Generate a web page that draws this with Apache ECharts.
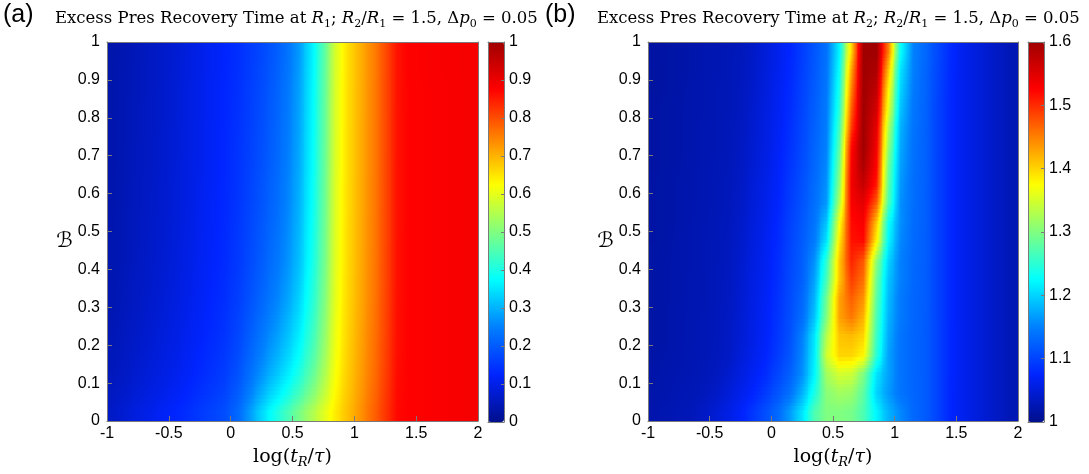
<!DOCTYPE html>
<html><head><meta charset="utf-8">
<script src="https://cdn.jsdelivr.net/npm/echarts@6/dist/echarts.min.js"></script>
<style>html,body{margin:0;padding:0;background:#fff}#c{width:1089px;height:474px}</style>
</head><body><div id="c"></div>
<script>
// cell centres
const xCenters = [-0.95,-0.85,-0.75,-0.65,-0.55,-0.45,-0.35,-0.25,-0.15,-0.05,0.05,0.15,0.25,0.35,0.45,0.55,0.65,0.75,0.85,0.95,1.05,1.15,1.25,1.35,1.45,1.55,1.65,1.75,1.85,1.95];
const yCenters = [0.025,0.075,0.125,0.175,0.225,0.275,0.325,0.375,0.425,0.475,0.525,0.575,0.625,0.675,0.725,0.775,0.825,0.875,0.925,0.975];
const xTicks = [-1,-0.5,0,0.5,1,1.5,2];
const yTicks = [0,0.1,0.2,0.3,0.4,0.5,0.6,0.7,0.8,0.9,1];
const cbTicksA = [0,0.1,0.2,0.3,0.4,0.5,0.6,0.7,0.8,0.9,1];
const cbTicksB = [1,1.1,1.2,1.3,1.4,1.5,1.6];

// panel (a) values, rows from bottom (y=0.025) to top (y=0.975)
const rowsA = [
[0.065,0.078,0.091,0.103,0.114,0.125,0.139,0.152,0.166,0.18,0.216,0.275,0.335,0.39,0.439,0.489,0.54,0.593,0.644,0.688,0.731,0.776,0.823,0.869,0.876,0.878,0.88,0.882,0.884,0.886],
[0.058,0.069,0.081,0.092,0.102,0.113,0.127,0.14,0.153,0.167,0.197,0.246,0.296,0.343,0.388,0.436,0.495,0.559,0.63,0.681,0.724,0.769,0.818,0.867,0.876,0.878,0.88,0.882,0.884,0.886],
[0.052,0.063,0.074,0.084,0.094,0.105,0.118,0.131,0.144,0.157,0.184,0.226,0.268,0.31,0.352,0.40,0.463,0.536,0.62,0.676,0.719,0.764,0.814,0.865,0.876,0.878,0.88,0.882,0.884,0.886],
[0.049,0.059,0.069,0.079,0.089,0.099,0.112,0.125,0.138,0.151,0.175,0.212,0.249,0.288,0.328,0.375,0.441,0.52,0.613,0.672,0.716,0.761,0.812,0.863,0.876,0.878,0.88,0.882,0.884,0.886],
[0.046,0.056,0.066,0.075,0.085,0.095,0.108,0.12,0.133,0.146,0.168,0.202,0.236,0.272,0.31,0.357,0.425,0.509,0.608,0.669,0.714,0.759,0.81,0.862,0.876,0.878,0.88,0.882,0.884,0.886],
[0.044,0.053,0.063,0.072,0.081,0.092,0.104,0.117,0.129,0.142,0.163,0.193,0.224,0.257,0.295,0.341,0.411,0.499,0.604,0.667,0.711,0.756,0.809,0.862,0.876,0.878,0.88,0.882,0.884,0.886],
[0.042,0.051,0.06,0.069,0.078,0.089,0.101,0.113,0.126,0.138,0.158,0.185,0.213,0.245,0.281,0.328,0.40,0.49,0.60,0.665,0.709,0.754,0.807,0.861,0.876,0.878,0.88,0.882,0.884,0.886],
[0.041,0.05,0.059,0.067,0.076,0.086,0.099,0.111,0.123,0.136,0.154,0.18,0.206,0.237,0.272,0.318,0.392,0.484,0.597,0.664,0.708,0.753,0.806,0.86,0.876,0.878,0.88,0.882,0.884,0.886],
[0.039,0.048,0.057,0.066,0.074,0.084,0.097,0.109,0.121,0.133,0.151,0.175,0.20,0.229,0.264,0.309,0.384,0.478,0.595,0.662,0.707,0.752,0.806,0.86,0.876,0.878,0.88,0.882,0.884,0.886],
[0.039,0.047,0.056,0.065,0.073,0.083,0.096,0.108,0.12,0.132,0.15,0.173,0.196,0.225,0.259,0.305,0.38,0.475,0.594,0.662,0.706,0.751,0.805,0.86,0.876,0.878,0.88,0.882,0.884,0.886],
[0.038,0.047,0.055,0.064,0.072,0.082,0.095,0.107,0.119,0.131,0.148,0.17,0.193,0.22,0.255,0.30,0.376,0.472,0.592,0.661,0.706,0.751,0.805,0.859,0.876,0.878,0.88,0.882,0.884,0.886],
[0.037,0.046,0.054,0.063,0.071,0.081,0.093,0.106,0.118,0.13,0.146,0.168,0.189,0.216,0.25,0.296,0.372,0.47,0.591,0.66,0.705,0.75,0.804,0.859,0.876,0.878,0.88,0.882,0.884,0.886],
[0.037,0.045,0.054,0.062,0.071,0.081,0.093,0.105,0.117,0.129,0.145,0.166,0.188,0.214,0.248,0.293,0.37,0.468,0.591,0.66,0.705,0.75,0.804,0.859,0.876,0.878,0.88,0.882,0.884,0.886],
[0.036,0.045,0.053,0.061,0.07,0.08,0.092,0.104,0.116,0.128,0.144,0.164,0.184,0.21,0.244,0.289,0.366,0.465,0.589,0.659,0.704,0.749,0.804,0.859,0.876,0.878,0.88,0.882,0.884,0.886],
[0.036,0.044,0.053,0.061,0.069,0.079,0.091,0.103,0.115,0.128,0.143,0.163,0.182,0.208,0.241,0.287,0.364,0.464,0.589,0.659,0.704,0.749,0.803,0.859,0.876,0.878,0.88,0.882,0.884,0.886],
[0.036,0.044,0.052,0.06,0.069,0.079,0.091,0.103,0.115,0.127,0.142,0.161,0.181,0.206,0.239,0.284,0.362,0.462,0.588,0.659,0.704,0.749,0.803,0.859,0.876,0.878,0.88,0.882,0.884,0.886],
[0.035,0.044,0.052,0.06,0.068,0.078,0.09,0.102,0.114,0.126,0.141,0.16,0.179,0.204,0.237,0.282,0.36,0.461,0.588,0.658,0.703,0.748,0.803,0.858,0.876,0.878,0.88,0.882,0.884,0.886],
[0.035,0.043,0.051,0.059,0.068,0.078,0.09,0.102,0.114,0.126,0.14,0.159,0.177,0.202,0.235,0.28,0.358,0.459,0.587,0.658,0.703,0.748,0.803,0.858,0.876,0.878,0.88,0.882,0.884,0.886],
[0.035,0.043,0.051,0.059,0.067,0.077,0.089,0.101,0.113,0.125,0.139,0.157,0.175,0.199,0.231,0.276,0.355,0.457,0.586,0.657,0.702,0.747,0.802,0.858,0.877,0.879,0.881,0.883,0.885,0.887],
[0.034,0.042,0.05,0.058,0.066,0.076,0.088,0.10,0.112,0.124,0.138,0.155,0.172,0.196,0.228,0.273,0.352,0.455,0.585,0.657,0.702,0.747,0.802,0.858,0.877,0.879,0.881,0.883,0.885,0.887]
];

// panel (b) values, rows from bottom (y=0.025) to top (y=0.975)
const rowsB = [
[1.022,1.024,1.027,1.029,1.036,1.046,1.058,1.071,1.089,1.109,1.131,1.165,1.21,1.27,1.30,1.30,1.295,1.27,1.22,1.18,1.155,1.13,1.12,1.10,1.076,1.064,1.054,1.044,1.035,1.027],
[1.02,1.022,1.025,1.027,1.03,1.037,1.049,1.061,1.074,1.093,1.113,1.136,1.18,1.24,1.305,1.32,1.315,1.28,1.20,1.165,1.14,1.128,1.12,1.10,1.076,1.064,1.054,1.044,1.035,1.027],
[1.019,1.021,1.023,1.026,1.028,1.032,1.042,1.054,1.066,1.081,1.101,1.122,1.16,1.22,1.32,1.35,1.345,1.30,1.21,1.17,1.14,1.127,1.12,1.10,1.077,1.064,1.054,1.044,1.035,1.027],
[1.018,1.02,1.022,1.025,1.027,1.03,1.037,1.049,1.061,1.074,1.093,1.113,1.155,1.215,1.345,1.40,1.40,1.38,1.25,1.17,1.14,1.127,1.12,1.10,1.077,1.064,1.054,1.044,1.035,1.027],
[1.017,1.019,1.022,1.024,1.027,1.029,1.036,1.046,1.058,1.071,1.089,1.109,1.15,1.21,1.33,1.41,1.415,1.40,1.26,1.175,1.14,1.127,1.12,1.10,1.077,1.064,1.054,1.044,1.035,1.027],
[1.017,1.019,1.022,1.024,1.027,1.029,1.035,1.045,1.057,1.07,1.087,1.107,1.135,1.19,1.30,1.43,1.455,1.42,1.27,1.18,1.145,1.128,1.12,1.10,1.078,1.064,1.054,1.044,1.035,1.027],
[1.017,1.019,1.021,1.024,1.026,1.029,1.034,1.044,1.056,1.069,1.085,1.105,1.13,1.18,1.29,1.43,1.47,1.44,1.28,1.185,1.145,1.128,1.121,1.10,1.078,1.064,1.054,1.044,1.035,1.027],
[1.017,1.019,1.021,1.024,1.026,1.029,1.033,1.043,1.055,1.067,1.083,1.103,1.124,1.17,1.265,1.41,1.49,1.46,1.29,1.19,1.15,1.13,1.121,1.10,1.078,1.064,1.054,1.044,1.035,1.027],
[1.017,1.019,1.021,1.023,1.026,1.028,1.032,1.042,1.054,1.066,1.081,1.101,1.122,1.16,1.25,1.41,1.505,1.475,1.31,1.20,1.15,1.13,1.122,1.10,1.078,1.064,1.054,1.044,1.035,1.027],
[1.016,1.018,1.021,1.023,1.026,1.028,1.032,1.04,1.052,1.065,1.079,1.099,1.12,1.145,1.21,1.39,1.515,1.52,1.38,1.22,1.155,1.132,1.122,1.10,1.078,1.064,1.054,1.044,1.035,1.027],
[1.016,1.018,1.02,1.023,1.025,1.028,1.031,1.039,1.051,1.063,1.077,1.097,1.117,1.14,1.19,1.37,1.52,1.53,1.41,1.23,1.16,1.133,1.123,1.10,1.078,1.064,1.054,1.044,1.035,1.027],
[1.016,1.018,1.02,1.022,1.025,1.027,1.03,1.037,1.049,1.061,1.074,1.093,1.113,1.136,1.165,1.33,1.53,1.545,1.47,1.27,1.16,1.135,1.123,1.10,1.078,1.064,1.054,1.044,1.035,1.027],
[1.016,1.018,1.02,1.022,1.025,1.027,1.03,1.036,1.048,1.06,1.072,1.091,1.111,1.133,1.16,1.31,1.535,1.57,1.51,1.28,1.165,1.135,1.124,1.10,1.078,1.064,1.054,1.044,1.035,1.027],
[1.015,1.017,1.019,1.022,1.024,1.027,1.029,1.035,1.045,1.057,1.07,1.087,1.107,1.129,1.155,1.295,1.53,1.59,1.525,1.29,1.17,1.137,1.124,1.10,1.078,1.064,1.054,1.044,1.035,1.027],
[1.015,1.017,1.019,1.021,1.024,1.026,1.029,1.034,1.044,1.056,1.069,1.085,1.105,1.127,1.15,1.28,1.52,1.60,1.535,1.31,1.175,1.138,1.125,1.10,1.078,1.064,1.054,1.044,1.035,1.027],
[1.015,1.017,1.019,1.021,1.024,1.026,1.029,1.033,1.043,1.055,1.067,1.083,1.103,1.124,1.147,1.265,1.49,1.60,1.545,1.33,1.18,1.14,1.125,1.10,1.078,1.064,1.054,1.044,1.035,1.027],
[1.015,1.017,1.019,1.021,1.023,1.026,1.028,1.032,1.042,1.054,1.066,1.081,1.101,1.122,1.145,1.25,1.47,1.60,1.56,1.36,1.19,1.142,1.126,1.10,1.078,1.064,1.054,1.044,1.035,1.027],
[1.014,1.016,1.018,1.021,1.023,1.026,1.028,1.032,1.04,1.052,1.065,1.079,1.099,1.12,1.142,1.24,1.45,1.60,1.575,1.38,1.20,1.145,1.127,1.102,1.078,1.064,1.054,1.044,1.035,1.027],
[1.014,1.016,1.018,1.02,1.023,1.025,1.028,1.031,1.039,1.051,1.063,1.077,1.097,1.117,1.14,1.23,1.43,1.60,1.59,1.41,1.21,1.148,1.128,1.103,1.079,1.064,1.054,1.044,1.035,1.027],
[1.015,1.016,1.018,1.02,1.023,1.025,1.028,1.03,1.038,1.05,1.062,1.075,1.095,1.115,1.138,1.22,1.40,1.60,1.60,1.45,1.23,1.15,1.13,1.105,1.08,1.064,1.054,1.044,1.035,1.027]
];

const jet = ['#000f8c','#0024ff','#0080ff','#00ffff','#80ff80','#ffff00','#ff8000','#ff0000','#a00000'];
const jetRGB = jet.map(h=>[parseInt(h.slice(1,3),16),parseInt(h.slice(3,5),16),parseInt(h.slice(5,7),16)]);
function jetColor(t){
  t=Math.max(0,Math.min(1,t));
  const n=jetRGB.length-1, p=t*n, k=Math.min(n-1,Math.floor(p)), f=p-k, a=jetRGB[k], b=jetRGB[k+1];
  return 'rgb('+Math.round(a[0]+(b[0]-a[0])*f)+','+Math.round(a[1]+(b[1]-a[1])*f)+','+Math.round(a[2]+(b[2]-a[2])*f)+')';
}

function toCells(rows){const out=[];rows.forEach((r,j)=>r.forEach((v,i)=>out.push([xCenters[i],yCenters[j],v,i,j])));return out;}

// interpolated shading of each cell (like shading interp), cell placed through the axes
function makeRender(rows,vmin,vmax){
  const nr=rows.length,nc=rows[0].length;
  const dx=(xCenters[1]-xCenters[0])/2, dy=(yCenters[1]-yCenters[0])/2;
  function val(i,j){i=Math.max(0,Math.min(nc-1,i));j=Math.max(0,Math.min(nr-1,j));return rows[j][i];}
  function bil(ci,rj){
    const i0=Math.floor(ci),fi=ci-i0,j0=Math.floor(rj),fj=rj-j0;
    return (1-fi)*(1-fj)*val(i0,j0)+fi*(1-fj)*val(i0+1,j0)+(1-fi)*fj*val(i0,j0+1)+fi*fj*val(i0+1,j0+1);
  }
  return function(params,api){
    const x=api.value(0),y=api.value(1),i=api.value(3),j=api.value(4);
    const X0=Math.floor(api.coord([x-dx,y])[0]), X1=Math.ceil(api.coord([x+dx,y])[0]);
    const S=5,K=8,children=[];
    for(let s=0;s<S;s++){
      const yb=y-dy+2*dy*s/S, yt=y-dy+2*dy*(s+1)/S;
      const Y0=Math.floor(api.coord([x,yt])[1]), Y1=Math.ceil(api.coord([x,yb])[1]);
      const rj=j-0.5+(s+0.5)/S;
      const stops=[];
      for(let k=0;k<=K;k++){const ci=i-0.5+k/K;stops.push({offset:k/K,color:jetColor((bil(ci,rj)-vmin)/(vmax-vmin))});}
      children.push({type:'rect',shape:{x:X0,y:Y0,width:X1-X0,height:Y1-Y0},style:{fill:{type:'linear',x:0,y:0,x2:1,y2:0,colorStops:stops}}});
    }
    return {type:'group',children:children};
  };
}

const GRAY='#7a7a7a';
const numFont={color:'#000',fontSize:16,fontFamily:'Liberation Sans, Arial, sans-serif'};
const serif='DejaVu Serif, Liberation Serif, serif';
function richSet(big,small){return {
  t:{fontFamily:serif,fontSize:big,fontWeight:'normal',color:'#000',lineHeight:big+5},
  i:{fontFamily:serif,fontStyle:'italic',fontWeight:'normal',fontSize:big,color:'#000',lineHeight:big+5},
  s:{fontFamily:serif,fontSize:small,fontWeight:'normal',color:'#000',lineHeight:small,verticalAlign:'bottom'},
  si:{fontFamily:serif,fontStyle:'italic',fontWeight:'normal',fontSize:small,color:'#000',lineHeight:small,verticalAlign:'bottom'}
};}
const titleRich=richSet(16.5,11);
const nameRich=richSet(19,13);
const xName='{t|log(}{i|t}{si|R}{t|/}{i|τ}{t|)}';

const grids=[
  {left:107,top:42,width:371,height:380},
  {left:648,top:42,width:370,height:380},
  {left:488,top:42,width:16,height:380},
  {left:1028,top:42,width:16,height:380}
];
const line={show:true,onZero:false,lineStyle:{color:GRAY,width:1}};

function valX(g){return {type:'value',gridIndex:g,min:xTicks[0],max:xTicks[xTicks.length-1],interval:xTicks[1]-xTicks[0],position:'bottom',z:10,
  axisLine:line,axisTick:{show:true,inside:true,length:5,lineStyle:{color:GRAY}},
  axisLabel:Object.assign({margin:5},numFont),splitLine:{show:false},
  name:xName,nameLocation:'middle',nameGap:24,nameTextStyle:{rich:nameRich}};}
function valY(g){return {type:'value',gridIndex:g,min:yTicks[0],max:yTicks[yTicks.length-1],interval:yTicks[1]-yTicks[0],position:'left',z:10,
  axisLine:line,axisTick:{show:true,inside:true,length:5,lineStyle:{color:GRAY}},
  axisLabel:Object.assign({margin:7},numFont),splitLine:{show:false},
  name:'ℬ',nameLocation:'middle',nameGap:30,nameRotate:0,nameTextStyle:{fontFamily:'DejaVu Serif, DejaVu Sans, serif',fontSize:21,color:'#000',verticalAlign:'top'}};}
function boxX(g){return {type:'value',gridIndex:g,min:xTicks[0],max:xTicks[xTicks.length-1],position:'top',z:10,axisLine:line,axisTick:{show:false},axisLabel:{show:false},splitLine:{show:false}};}
function boxY(g){return {type:'value',gridIndex:g,min:yTicks[0],max:yTicks[yTicks.length-1],position:'right',z:10,axisLine:line,axisTick:{show:false},axisLabel:{show:false},splitLine:{show:false}};}
function cbX(g,pos){return {type:'value',gridIndex:g,min:0,max:1,position:pos,z:10,axisLine:line,axisTick:{show:false},axisLabel:{show:false},splitLine:{show:false}};}
function cbY(g,ticks,pos,labels){return {type:'value',gridIndex:g,min:ticks[0],max:ticks[ticks.length-1],interval:0.1,position:pos,z:10,
  axisLine:line,axisTick:{show:labels,inside:true,length:3,lineStyle:{color:GRAY}},
  axisLabel:Object.assign({show:labels,margin:5},numFont),splitLine:{show:false}};}

function titleText(r){return '{t|Excess Pres Recovery Time at }{i|R}{s|'+r+'}{t|; }{i|R}{s|2}{t|/}{i|R}{s|1}{t| = 1.5, Δ}{i|p}{s|0}{t| = 0.05}';}
const labFont={fontFamily:'Liberation Sans, Arial, sans-serif',fontSize:25,fontWeight:'normal',color:'#000'};

const chart=echarts.init(document.getElementById('c'),null,{renderer:'canvas'});
chart.setOption({
  backgroundColor:'#fff',
  animation:false,
  title:[
    {text:'(a)',left:3,top:3,padding:0,textStyle:labFont},
    {text:titleText(1),left:55,top:8,padding:0,textStyle:{fontWeight:'normal',rich:titleRich}},
    {text:'(b)',left:545,top:3,padding:0,textStyle:labFont},
    {text:titleText(2),left:597,top:8,padding:0,textStyle:{fontWeight:'normal',rich:titleRich}}
  ],
  grid:grids,
  xAxis:[valX(0),boxX(0),valX(1),boxX(1),cbX(2,'bottom'),cbX(2,'top'),cbX(3,'bottom'),cbX(3,'top')],
  yAxis:[valY(0),boxY(0),valY(1),boxY(1),cbY(2,cbTicksA,'right',true),cbY(2,cbTicksA,'left',false),cbY(3,cbTicksB,'right',true),cbY(3,cbTicksB,'left',false)],
  visualMap:[
    {type:'continuous',seriesIndex:0,dimension:2,min:cbTicksA[0],max:cbTicksA[cbTicksA.length-1],calculable:false,left:488,top:42,itemWidth:16,itemHeight:380,padding:0,z:2,inRange:{color:jet}},
    {type:'continuous',seriesIndex:1,dimension:2,min:cbTicksB[0],max:cbTicksB[cbTicksB.length-1],calculable:false,left:1028,top:42,itemWidth:16,itemHeight:380,padding:0,z:2,inRange:{color:jet}}
  ],
  series:[
    {type:'custom',xAxisIndex:0,yAxisIndex:0,data:toCells(rowsA),encode:{x:0,y:1},renderItem:makeRender(rowsA,cbTicksA[0],cbTicksA[cbTicksA.length-1]),clip:true,silent:true,progressive:0},
    {type:'custom',xAxisIndex:2,yAxisIndex:2,data:toCells(rowsB),encode:{x:0,y:1},renderItem:makeRender(rowsB,cbTicksB[0],cbTicksB[cbTicksB.length-1]),clip:true,silent:true,progressive:0}
  ]
});
</script></body></html>
